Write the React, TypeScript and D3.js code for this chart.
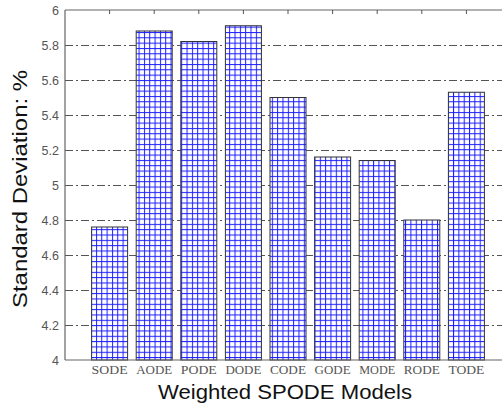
import { useEffect, useRef } from "react";
import * as d3 from "d3";

const models = ["SODE", "AODE", "PODE", "DODE", "CODE", "GODE", "MODE", "RODE", "TODE"];
const stdDev = [4.76, 5.88, 5.82, 5.91, 5.5, 5.16, 5.14, 4.8, 5.53];
const yTicks = [4, 4.2, 4.4, 4.6, 4.8, 5, 5.2, 5.4, 5.6, 5.8, 6];

export default function App() {
  const svgRef = useRef<SVGSVGElement | null>(null);

  useEffect(() => {
    document.body.style.margin = "0";
    if (!svgRef.current) return;
    const width = 502;
    const margin = { top: 10, left: 65, bottom: 360 };

    const svg = d3.select(svgRef.current);
    svg.selectAll("*").remove();

    const step = 44.6;
    const x = d3
      .scaleLinear()
      .domain([0, 10])
      .range([margin.left, margin.left + step * 10]);
    const y = d3.scaleLinear().domain([4, 6]).range([margin.bottom, margin.top]);

    // grid hatch pattern for bars
    const p = 5.33;
    const pat = svg
      .append("defs")
      .append("pattern")
      .attr("id", "hatch")
      .attr("patternUnits", "userSpaceOnUse")
      .attr("width", p)
      .attr("height", p);
    pat.append("rect").attr("width", p).attr("height", p).attr("fill", "#ffffff");
    pat.append("line").attr("x1", 0.5).attr("x2", 0.5).attr("y1", 0).attr("y2", p)
      .attr("stroke", "#1a1aff").attr("stroke-width", 1);
    pat.append("line").attr("y1", 0.5).attr("y2", 0.5).attr("x1", 0).attr("x2", p)
      .attr("stroke", "#1a1aff").attr("stroke-width", 1);

    // dash-dot grid lines
    svg
      .append("g")
      .selectAll("line")
      .data(yTicks.filter((t) => t > 4 && t < 6))
      .join("line")
      .attr("x1", margin.left)
      .attr("x2", width)
      .attr("y1", (d) => Math.round(y(d)) + 0.5)
      .attr("y2", (d) => Math.round(y(d)) + 0.5)
      .attr("stroke", "#555")
      .attr("stroke-width", 1)
      .attr("stroke-dasharray", "8,3,2,3");

    // bars
    const barW = 36;
    svg
      .append("g")
      .selectAll("rect")
      .data(stdDev)
      .join("rect")
      .attr("x", (_, i) => x(i + 1) - barW / 2)
      .attr("y", (d) => y(d))
      .attr("width", barW)
      .attr("height", (d) => y(4) - y(d))
      .attr("fill", "url(#hatch)")
      .attr("stroke", "#333")
      .attr("stroke-width", 1);

    // axes box
    const ax = svg.append("g").attr("stroke", "#666").attr("stroke-width", 1.2);
    ax.append("line").attr("x1", margin.left).attr("x2", width).attr("y1", margin.top).attr("y2", margin.top);
    ax.append("line").attr("x1", margin.left).attr("x2", width).attr("y1", margin.bottom).attr("y2", margin.bottom);
    ax.append("line").attr("x1", margin.left).attr("x2", margin.left).attr("y1", margin.top).attr("y2", margin.bottom);

    // top ticks at bar centres
    svg
      .append("g")
      .selectAll("line")
      .data(models)
      .join("line")
      .attr("x1", (_, i) => x(i + 1))
      .attr("x2", (_, i) => x(i + 1))
      .attr("y1", margin.top)
      .attr("y2", margin.top + 4)
      .attr("stroke", "#555");

    // y tick labels
    svg
      .append("g")
      .selectAll("text")
      .data(yTicks)
      .join("text")
      .attr("x", margin.left - 6)
      .attr("y", (d) => y(d) + 4.5)
      .attr("text-anchor", "end")
      .attr("font-family", "Liberation Sans, Arial, sans-serif")
      .attr("font-size", 12.5)
      .attr("fill", "#555")
      .text((d) => d3.format("")(d));

    // x tick labels
    svg
      .append("g")
      .selectAll("text")
      .data(models)
      .join("text")
      .attr("x", (_, i) => x(i + 1) - 18)
      .attr("y", 374)
      .attr("font-family", "Liberation Serif, Times New Roman, serif")
      .attr("font-size", 12.5)
      .attr("fill", "#555")
      .attr("textLength", 36)
      .attr("lengthAdjust", "spacingAndGlyphs")
      .text((d) => d);

    // axis titles
    svg
      .append("text")
      .attr("x", 158)
      .attr("y", 399)
      .attr("font-family", "Liberation Sans, Arial, sans-serif")
      .attr("font-size", 20)
      .attr("fill", "#111")
      .attr("textLength", 254)
      .attr("lengthAdjust", "spacingAndGlyphs")
      .text("Weighted SPODE Models");

    svg
      .append("text")
      .attr("transform", "rotate(-90)")
      .attr("x", -308)
      .attr("y", 27)
      .attr("font-family", "Liberation Sans, Arial, sans-serif")
      .attr("font-size", 21)
      .attr("fill", "#111")
      .attr("textLength", 238)
      .attr("lengthAdjust", "spacingAndGlyphs")
      .text("Standard Deviation: %");
  }, []);

  return (
    <svg
      ref={svgRef}
      width={502}
      height={406}
      style={{ display: "block", background: "#fff" }}
    ></svg>
  );
}
